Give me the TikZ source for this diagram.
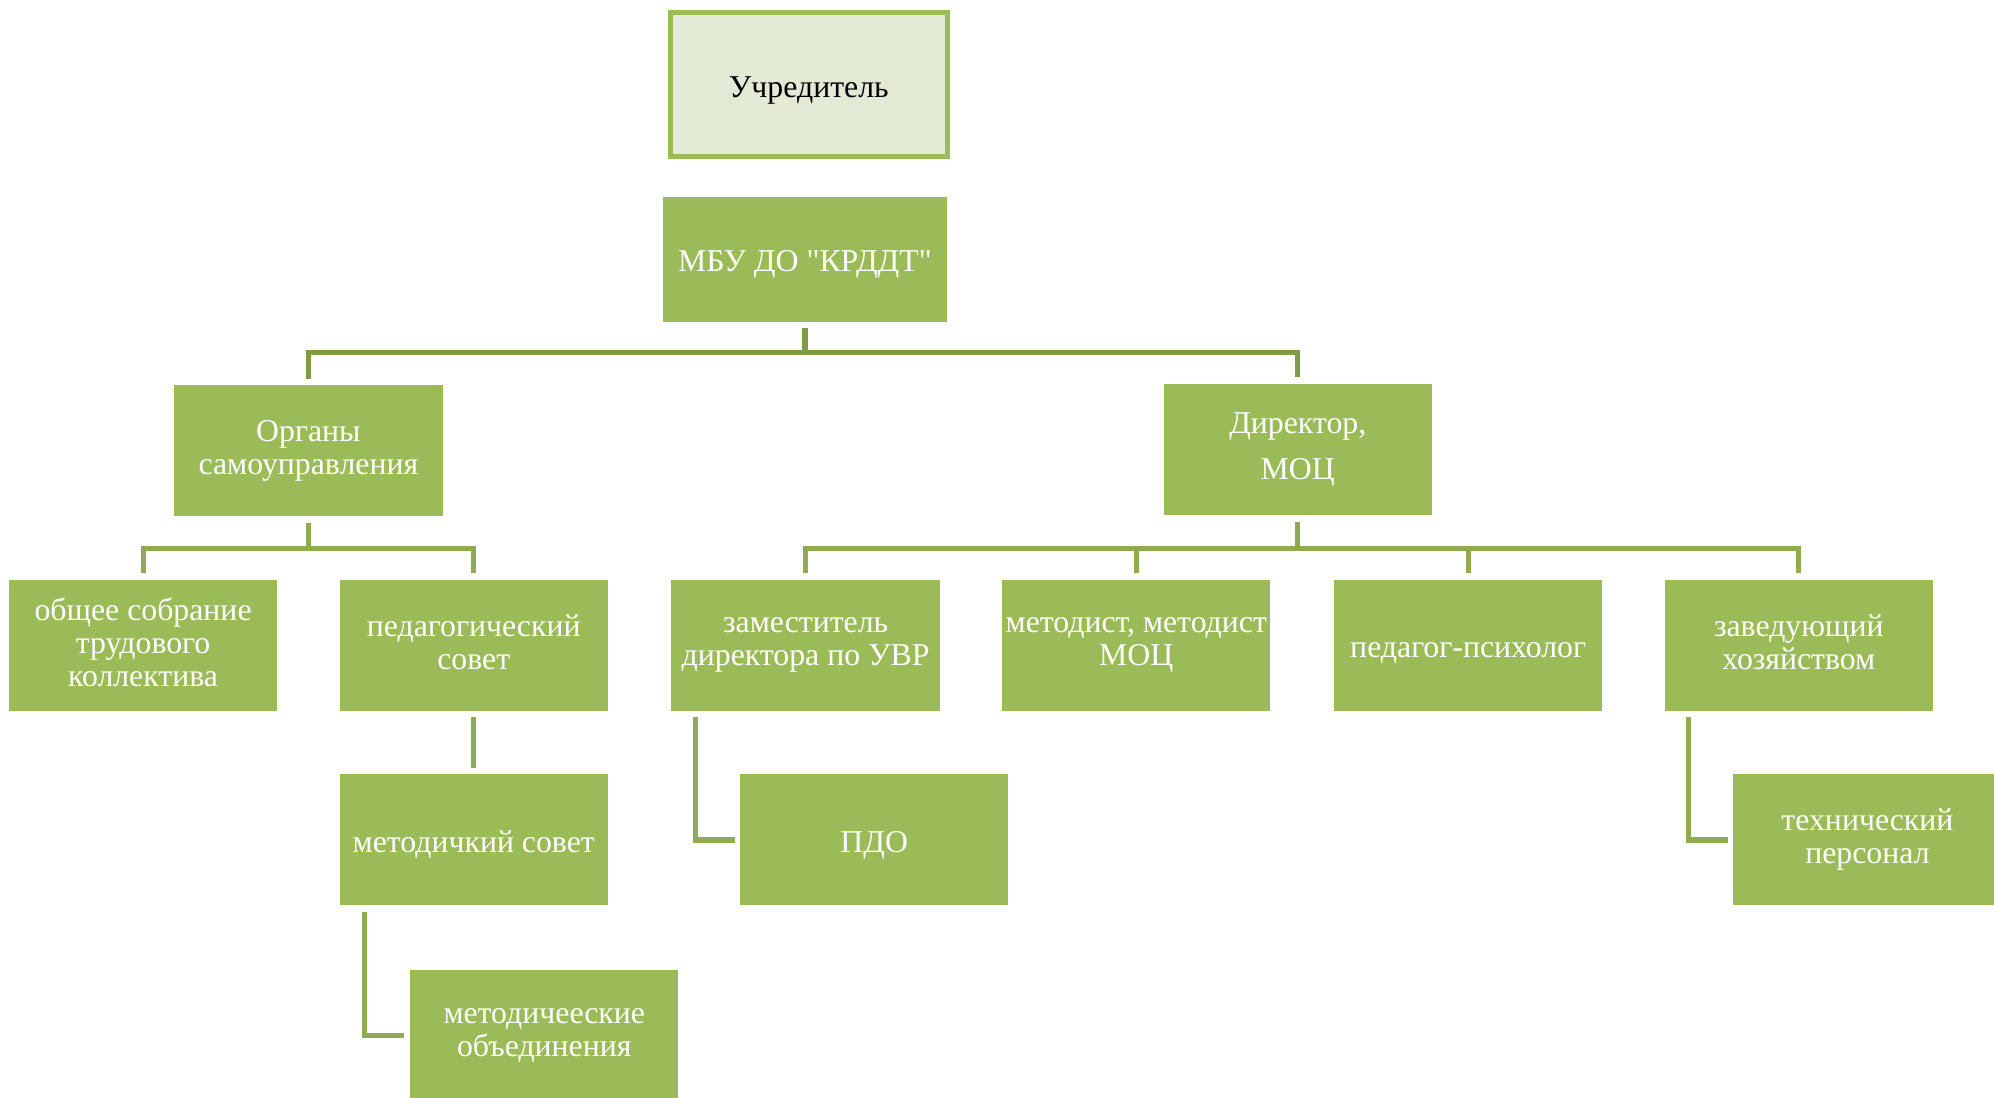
\documentclass[tikz,border=0pt]{standalone}
\usepackage{fontspec}
\setmainfont{Liberation Serif}[Ligatures=TeXOff]
\usepackage{tikz}
\usetikzlibrary{positioning}

\definecolor{olive}{HTML}{9BBB59}
\definecolor{palegreen}{HTML}{E2E9D5}
\definecolor{darkline}{HTML}{7F9A48}
\definecolor{midline}{HTML}{8FAA50}

\tikzset{
  evenlines/.style={execute at begin node=\rule{0pt}{25pt},execute at end node=\vphantom{у}},
  unit/.style={rectangle,fill=olive,text=white,minimum width=211pt,minimum height=103pt,
    align=center,inner sep=0pt,font=\fontsize{25}{26}\selectfont,evenlines},
  link/.style={draw=darkline,line width=4pt},
  sublink/.style={draw=midline,line width=4pt}
}

\begin{document}
\begin{tikzpicture}[x=1pt,y=-1pt]
      \useasboundingbox (0,0) rectangle (1568,863);
      \node[rectangle,draw=olive,line width=4pt,fill=palegreen,minimum width=218pt,minimum height=113pt,
        font=\fontsize{25}{26}\selectfont,evenlines] at (636,66.5) (founder) {Учредитель};
      \node[unit,minimum width=224pt,minimum height=98pt] at (633,204) (mbu) {МБУ ДО "КРДДТ"};
      \node[unit] at (242.5,354.5) (organs) {Органы\\самоуправления};
      \node[unit] at (1020.5,353.5) (director) {Директор,\\[10pt]МОЦ};
      \node[unit] at (112.5,507.5) (assembly) {общее собрание\\трудового\\коллектива};
      \node[unit] at (372.5,507.5) (pedsov) {педагогический\\совет};
      \node[unit] at (633.5,507.5) (deputy) {заместитель\\директора по УВР};
      \node[unit] at (893.5,507.5) (methodist) {методист, методист\\МОЦ};
      \node[unit] at (1154.5,507.5) (psych) {педагог-психолог};
      \node[unit] at (1414.5,507.5) (manager) {заведующий\\хозяйством};
      \node[unit] at (372.5,660.5) (metsov) {методичкий совет};
      \node[unit] at (687.5,660.5) (pdo) {ПДО};
      \node[unit] at (1468.5,660.5) (staff) {технический\\персонал};
      \node[unit] at (428,814.5) (metob) {методичеескиe\\объединения};
      % upper levels
      \draw[link] ([yshift=-5pt]mbu.south) -- ++(0,19) coordinate (mbuj);
      \draw[link] (mbuj) -| ([yshift=5pt]organs.north);
      \draw[link] (mbuj) -| ([yshift=5pt]director.north);
      \draw[sublink] ([yshift=-5pt]organs.south) -- ++(0,20) coordinate (orgj);
      \draw[sublink] (orgj) -| ([yshift=5pt]assembly.north);
      \draw[sublink] (orgj) -| ([yshift=5pt]pedsov.north);
      \draw[sublink] ([yshift=-5pt]director.south) -- ++(0,21) coordinate (dirj);
      \foreach \n in {deputy,methodist,psych,manager}
        \draw[sublink] (dirj) -| ([yshift=5pt]\n.north);
      % side branches
      \draw[sublink] ([yshift=-5pt]pedsov.south) -- ([yshift=5pt]metsov.north);
      \draw[sublink] ([xshift=19pt,yshift=-5pt]deputy.south west) |- ([xshift=-4pt]pdo.west);
      \draw[sublink] ([xshift=20pt,yshift=-5pt]metsov.south west) |- ([xshift=-5pt]metob.west);
      \draw[sublink] ([xshift=19pt,yshift=-5pt]manager.south west) |- ([xshift=-4pt]staff.west);
\end{tikzpicture}
\end{document}
